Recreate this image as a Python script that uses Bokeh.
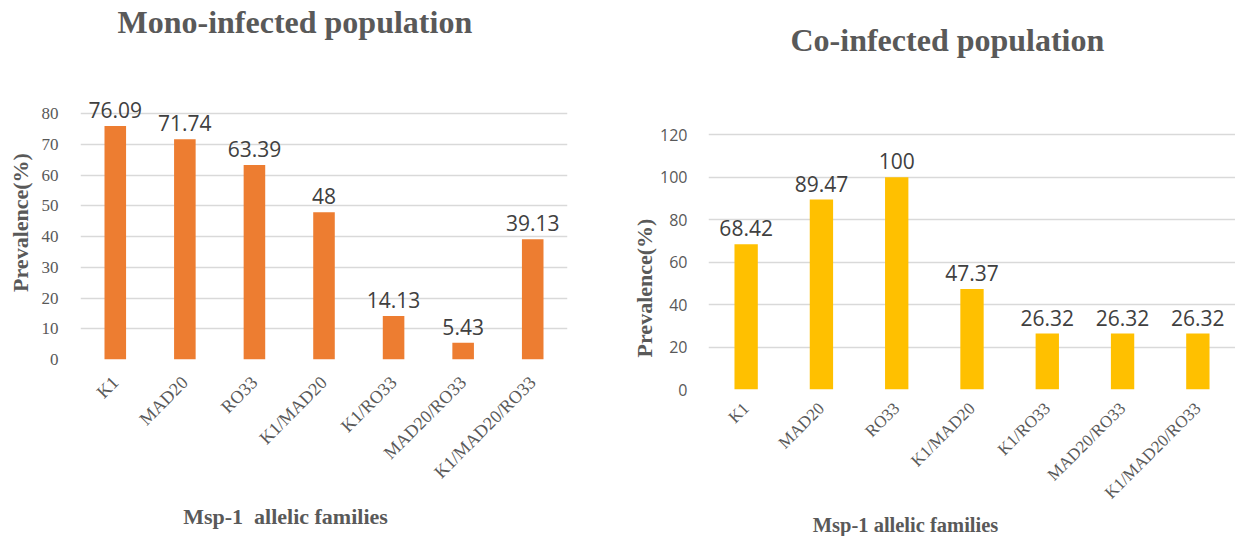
from math import pi

from bokeh.core.properties import value
from bokeh.embed import file_html
from bokeh.layouts import column, row
from bokeh.models import ColumnDataSource, FixedTicker, Range1d, Title
from bokeh.plotting import figure
from bokeh.resources import INLINE

# Msp-1 allelic family prevalence (%)
families = ["K1", "MAD20", "RO33", "K1/MAD20", "K1/RO33", "MAD20/RO33", "K1/MAD20/RO33"]
mono_values = [76.09, 71.74, 63.39, 48, 14.13, 5.43, 39.13]
co_values = [68.42, 89.47, 100, 47.37, 26.32, 26.32, 26.32]

mono_ticks = [0, 10, 20, 30, 40, 50, 60, 70, 80]
co_ticks = [0, 20, 40, 60, 80, 100, 120]

SERIF = "Liberation Serif"
SANS = "Open Sans"
GREY = "#595959"
DARK = "#404040"
GRID = "#D9D9D9"


def text_strip(width, height, x, y, text, angle=0.0, size="22px"):
    """A bare strip that carries one axis title next to a chart."""
    s = figure(
        width=width, height=height,
        x_range=Range1d(0, width), y_range=Range1d(0, height),
        x_axis_location=None, y_axis_location=None,
        output_backend="svg", toolbar_location=None,
        min_border=0, outline_line_color=None,
        background_fill_color="white", border_fill_color="white",
        frame_align=False,
    )
    s.grid.visible = False
    s.text(x=[x], y=[y], text=[text], angle=angle,
           text_align="center", text_baseline="middle",
           text_font=value(SERIF), text_font_size=size,
           text_font_style="bold", text_color=GREY)
    return s


def bar_chart(title, values, ticks, y_end, color, width, height, border_left,
              border_right, border_top, border_bottom, tick_font, tick_size,
              y_standoff, x_label_size, x_standoff, title_offset):
    src = ColumnDataSource(dict(
        family=families,
        value=values,
        label=[f"{v:g}" for v in values],
    ))
    p = figure(
        x_range=families,
        y_range=Range1d(0, y_end),
        width=width,
        height=height,
        output_backend="svg",
        toolbar_location=None,
        min_border_left=border_left,
        min_border_right=border_right,
        min_border_top=border_top,
        min_border_bottom=border_bottom,
        outline_line_color=None,
        background_fill_color="white",
        border_fill_color="white",
        frame_align=False,
    )
    p.title = Title(
        text=title,
        align="left",
        offset=title_offset,
        standoff=2,
        text_font=SERIF,
        text_font_size="32px",
        text_font_style="bold",
        text_color=GREY,
    )

    p.vbar(x="family", top="value", width=0.31, source=src,
           fill_color=color, line_color=None)
    p.text(x="family", y="value", text="label", source=src,
           text_align="center", text_baseline="alphabetic", y_offset=-16,
           text_font=value(SANS), text_font_size="21px", text_color=DARK)

    # horizontal gridlines only
    p.xgrid.grid_line_color = None
    p.ygrid.grid_line_color = GRID
    p.ygrid.grid_line_width = 1.5
    p.yaxis.ticker = FixedTicker(ticks=ticks)

    # y axis
    p.yaxis.axis_line_color = None
    p.yaxis.major_tick_line_color = None
    p.yaxis.minor_tick_line_color = None
    p.yaxis.major_label_standoff = y_standoff
    p.yaxis.major_label_text_font = tick_font
    p.yaxis.major_label_text_font_size = tick_size
    p.yaxis.major_label_text_color = GREY

    # x axis
    p.xaxis.axis_line_color = None
    p.xaxis.major_tick_line_color = None
    p.xaxis.minor_tick_line_color = None
    p.xaxis.major_label_orientation = pi / 4
    p.xaxis.major_label_standoff = x_standoff
    p.xaxis.major_label_text_font = SERIF
    p.xaxis.major_label_text_font_size = x_label_size
    p.xaxis.major_label_text_color = GREY
    p.x_range.range_padding = 0
    return p


# left block: mono-infected
mono = bar_chart(
    "Mono-infected population", mono_values, mono_ticks, 103.9, "#ED7D31",
    width=582, height=496, border_left=37, border_right=53,
    border_top=40, border_bottom=137,
    tick_font=SERIF, tick_size="17px", y_standoff=16,
    x_label_size="18px", x_standoff=14, title_offset=37,
)
mono_y = text_strip(38, 496, 19.6, 274, "Prevalence(%)", angle=pi / 2)
mono_x = text_strip(620, 40, 285, 20, "Msp-1\u00a0 allelic families")
left_block = column(row(mono_y, mono, spacing=0), mono_x, spacing=0)

# right block: co-infected
co = bar_chart(
    "Co-infected population", co_values, co_ticks, 155.9 * 124 / 124, "#FFC000",
    width=578, height=513, border_left=43, border_right=0,
    border_top=58, border_bottom=124,
    tick_font=SANS, tick_size="16px", y_standoff=15,
    x_label_size="17px", x_standoff=10, title_offset=82,
)
co_y = text_strip(37, 513, 23.8, 225.5, "Prevalence(%)", angle=pi / 2)
co_x = text_strip(615, 23, 285, 11.5, "Msp-1 allelic families", size="20.5px")
right_block = column(row(co_y, co, spacing=0), co_x, spacing=0)

layout = row(left_block, right_block, spacing=0)
open("out.html", "w").write(file_html(layout, INLINE))
